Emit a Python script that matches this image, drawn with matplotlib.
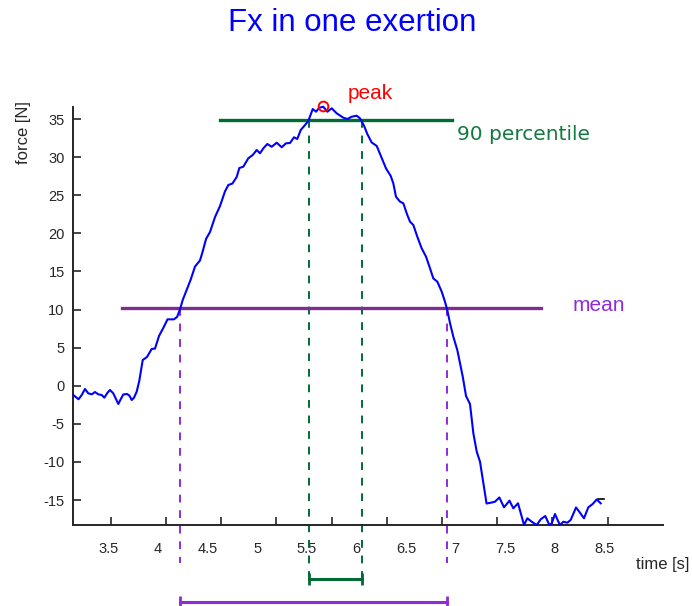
import matplotlib
matplotlib.use("Agg")
import matplotlib.pyplot as plt

plt.rcParams["font.family"] = ["Liberation Sans", "DejaVu Sans"]
plt.rcParams["axes.unicode_minus"] = False

# force trace (time in s, force in N)
time_s = [3.146, 3.199, 3.231, 3.264, 3.297, 3.332, 3.365, 3.398, 3.432, 3.459,
          3.491, 3.516, 3.549, 3.573, 3.600, 3.624, 3.650, 3.688, 3.711, 3.735,
          3.758, 3.785, 3.811, 3.846, 3.889, 3.936, 3.970, 4.010, 4.053, 4.096,
          4.161, 4.192, 4.222, 4.249, 4.289, 4.328, 4.373, 4.423, 4.449, 4.484,
          4.524, 4.575, 4.625, 4.675, 4.709, 4.751, 4.793, 4.820, 4.860, 4.910,
          4.955, 4.995, 5.028, 5.062, 5.102, 5.146, 5.197, 5.247, 5.290, 5.331,
          5.371, 5.404, 5.439, 5.482, 5.515, 5.560, 5.593, 5.626, 5.666, 5.707,
          5.751, 5.801, 5.868, 5.908, 5.953, 6.003, 6.036, 6.077, 6.110, 6.154,
          6.205, 6.255, 6.298, 6.346, 6.372, 6.399, 6.440, 6.473, 6.507, 6.540,
          6.574, 6.614, 6.658, 6.702, 6.742, 6.775, 6.816, 6.860, 6.893, 6.916,
          6.944, 6.977, 7.017, 7.044, 7.072, 7.105, 7.145, 7.179, 7.213, 7.246,
          7.280, 7.312, 7.364, 7.397, 7.441, 7.488, 7.543, 7.582, 7.629, 7.666,
          7.690, 7.723, 7.767, 7.818, 7.858, 7.904, 7.945, 7.969, 8.002, 8.025,
          8.052, 8.086, 8.126, 8.160, 8.214, 8.247, 8.294, 8.338, 8.382, 8.422,
          8.463]
force_n = [-1.22, -1.78, -1.22, -0.43, -1.00, -1.13, -0.83, -1.13, -1.22, -1.57,
           -0.92, -0.56, -1.00, -1.65, -2.40, -1.78, -1.15, -1.09, -1.29, -1.88,
           -1.57, -0.79, 0.62, 3.37, 3.77, 4.82, 4.88, 6.52, 7.57, 8.71,
           8.71, 9.02, 10.03, 11.25, 12.56, 13.87, 15.64, 16.43, 17.55, 19.25,
           20.17, 22.14, 23.58, 25.49, 26.34, 26.54, 27.39, 28.57, 28.74, 29.84,
           30.28, 30.93, 30.50, 31.15, 31.72, 31.36, 31.89, 31.29, 31.81, 31.85,
           32.60, 32.38, 33.56, 34.21, 34.74, 36.31, 35.96, 36.48, 36.61, 35.96,
           36.40, 35.75, 35.17, 35.00, 35.30, 35.43, 35.09, 34.12, 33.03, 31.92,
           31.46, 29.88, 28.53, 27.52, 26.56, 24.80, 24.15, 23.94, 22.62, 21.53,
           21.09, 19.55, 18.03, 16.93, 15.41, 14.09, 13.65, 12.34, 11.02, 9.93,
           8.19, 6.43, 4.69, 2.94, 1.19, -1.35, -2.40, -6.25, -8.66, -9.97,
           -12.81, -15.46, -15.33, -15.22, -14.67, -15.96, -15.09, -16.09, -15.43, -17.19,
           -18.28, -17.40, -17.85, -18.28, -17.53, -17.10, -18.28, -18.06, -16.84, -17.53,
           -18.28, -17.85, -17.98, -17.62, -15.98, -16.54, -17.40, -15.96, -15.52, -14.93,
           -15.43]

# summary values
peak_t, peak_f = 5.666, 36.7
p90_level = 34.87
p90_span = [4.625, 6.964]
p90_cross = [5.522, 6.056]
mean_level = 10.16
mean_span = [3.637, 7.861]
mean_cross = [4.222, 6.912]

x_labels = [3.5, 4, 4.5, 5, 5.5, 6, 6.5, 7, 7.5, 8, 8.5]
x_marks = [3.523 + 0.5567 * k for k in range(10)]
y_ticks = [-15, -10, -5, 0, 5, 10, 15, 20, 25, 30, 35]

blue = "#0000ff"
green = "#006b35"
green_txt = "#137a40"
purple = "#7e2f8e"
violet = "#8f2bd9"
ink = "#262626"

fig = plt.figure(figsize=(6.92, 6.06), dpi=100)
ax = fig.add_axes([0.10549, 0.13366, 0.85260, 0.68977])

ax.plot(time_s, force_n, color=blue, lw=1.5, clip_on=False, zorder=3,
        solid_joinstyle="round")
ax.plot([8.435, 8.496], [-14.9, -14.9], color="black", lw=1.2, clip_on=False)

# 90 percentile
ax.plot(p90_span, [p90_level] * 2, color=green, lw=2.4, clip_on=False, zorder=2)
for t in p90_cross:
    ax.plot([t, t], [p90_level, -25.4], color=green, lw=1.4, ls=(0, (4, 4)),
            clip_on=False, zorder=2)
ax.plot(p90_cross, [-25.38] * 2, color=green, lw=2.2, marker="|", ms=9, mew=2,
        clip_on=False)
ax.text(7.014, 33.03, "90 percentile", color=green_txt, fontsize=14.5,
        family="DejaVu Sans", ha="left", va="center")

# mean
ax.plot(mean_span, [mean_level] * 2, color=purple, lw=2.4, clip_on=False, zorder=2)
for t in mean_cross:
    ax.plot([t, t], [mean_level, -23.3], color=violet, lw=1.4, ls=(0, (4, 4)),
            clip_on=False, zorder=2)
ax.plot(mean_cross, [-28.32] * 2, color=violet, lw=2.2, marker="|", ms=9, mew=2,
        clip_on=False)
ax.text(8.183, 10.59, "mean", color=violet, fontsize=15, ha="left", va="center")

# peak
ax.plot([peak_t], [peak_f], "o", mfc="none", mec="red", ms=7, mew=1.4,
        clip_on=False, zorder=4)
ax.text(5.915, 38.4, "peak", color="red", fontsize=15, ha="left", va="center")

ax.set_xlim(3.1431, 9.0907)
ax.set_ylim(-18.28, 36.575)

ax.set_xticks(x_labels)
ax.set_xticklabels([f"{v:g}" for v in x_labels])
ax.set_xticks(x_marks, minor=True)
ax.tick_params(axis="x", which="major", length=0, pad=12, labelsize=10.5,
               labelcolor=ink)
ax.tick_params(axis="x", which="minor", direction="in", length=6, width=1.2,
               color=ink)
ax.set_yticks(y_ticks)
ax.tick_params(axis="y", direction="in", length=6, width=1.2, color=ink,
               labelsize=10.5, labelcolor=ink, pad=6)

for side in ["top", "right"]:
    ax.spines[side].set_visible(False)
for side in ["left", "bottom"]:
    ax.spines[side].set_linewidth(1.4)
    ax.spines[side].set_color(ink)

ax.set_xlabel("time [s]", fontsize=12, color=ink)
ax.xaxis.set_label_coords(1.0, -0.076)
ax.set_ylabel("force [N]", fontsize=12, color=ink)
ax.yaxis.set_label_coords(-0.071, 0.94)

fig.text(0.509, 0.962, "Fx in one exertion", color=blue, fontsize=22.5,
         ha="center", va="center")

fig.savefig("out.png", dpi=100)
